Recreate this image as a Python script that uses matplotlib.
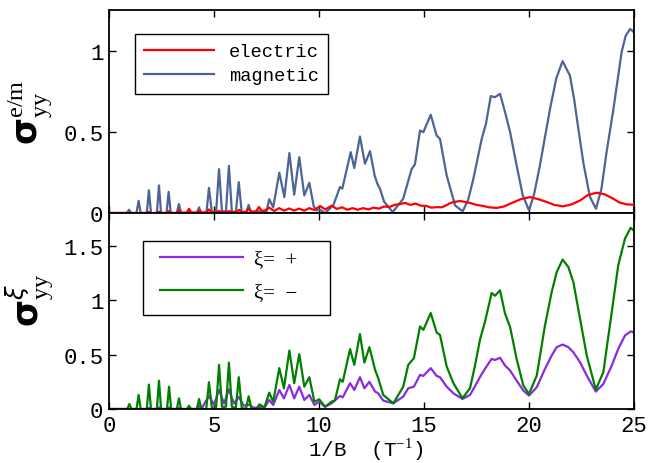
import matplotlib
matplotlib.use('Agg')
import matplotlib.pyplot as plt
from matplotlib.patches import Rectangle

plt.rcParams['font.family'] = ['Liberation Mono', 'DejaVu Sans']
plt.rcParams['mathtext.fontset'] = 'custom'
plt.rcParams['mathtext.rm'] = 'Liberation Serif'
plt.rcParams['mathtext.bf'] = 'DejaVu Sans:bold'

# sigma_yy, magnetic part
mag_x = [0.0, 0.85, 0.95, 1.05, 1.31, 1.41, 1.51, 1.80, 1.90, 2.00, 2.28, 2.38, 2.48,
         2.74, 2.84, 2.94, 3.23, 3.33, 3.43, 3.71, 3.81, 3.91, 4.19, 4.29, 4.39,
         4.64, 4.76, 4.90, 5.10, 5.24, 5.38, 5.57, 5.71, 5.85, 6.04, 6.18, 6.32,
         6.53, 6.65, 6.77, 7.04, 7.14, 7.24, 7.50, 7.63, 7.82, 8.11, 8.35, 8.59,
         8.82, 9.06, 9.30, 9.54, 9.75, 9.89, 10.05, 10.29, 10.68, 11.0, 11.11,
         11.51, 11.68, 11.95, 12.19, 12.43, 12.65, 12.78, 12.9, 13.1, 13.51,
         14.01, 14.41, 14.57, 14.81, 14.97, 15.32, 15.60, 15.76, 16.08, 16.48,
         16.84, 17.1, 17.35, 17.75, 17.95, 18.18, 18.38, 18.62, 18.86, 19.10,
         19.41, 19.7, 20.0, 20.25, 20.52, 20.75, 21.0, 21.3, 21.6, 21.95, 22.15,
         22.35, 22.6, 22.9, 23.19, 23.45, 23.7, 24.02, 24.41, 24.6, 24.81, 24.97, 25.0]
mag_y = [0.0, 0.0, 0.02, 0.0, 0.0, 0.075, 0.0, 0.0, 0.14, 0.0, 0.0, 0.17, 0.0,
         0.0, 0.13, 0.0, 0.0, 0.055, 0.0, 0.0, 0.012, 0.0, 0.0, 0.035, 0.0,
         0.0, 0.155, 0.005, 0.005, 0.27, 0.01, 0.01, 0.29, 0.01, 0.005, 0.19, 0.005,
         0.0, 0.05, 0.0, 0.0, 0.012, 0.0, 0.01, 0.085, 0.035, 0.248, 0.098, 0.369,
         0.113, 0.344, 0.108, 0.186, 0.04, 0.016, 0.02, 0.0, 0.047, 0.16, 0.15,
         0.375, 0.277, 0.471, 0.303, 0.381, 0.23, 0.18, 0.15, 0.07, 0.006,
         0.088, 0.27, 0.30, 0.508, 0.498, 0.605, 0.477, 0.457, 0.231, 0.047,
         0.01, 0.08, 0.21, 0.457, 0.549, 0.72, 0.713, 0.734, 0.621, 0.498,
         0.293, 0.11, 0.016, 0.12, 0.293, 0.46, 0.64, 0.83, 0.935, 0.846, 0.70,
         0.518, 0.30, 0.10, 0.026, 0.15, 0.38, 0.64, 0.99, 1.09, 1.133, 1.117, 1.11]

# sigma_yy, electric part
ele_x = [0.0, 1.8, 1.9, 2.0, 2.28, 2.38, 2.48, 2.74, 2.84, 2.94, 3.23, 3.33, 3.43,
         3.70, 3.81, 3.92, 4.18, 4.29, 4.40, 4.64, 4.76, 4.88, 5.12, 5.24, 5.36,
         5.60, 5.71, 5.83, 6.07, 6.19, 6.31, 6.53, 6.65, 6.78, 7.00, 7.14, 7.28,
         7.43, 7.63, 7.87, 8.10, 8.35, 8.58, 8.82, 9.06, 9.30, 9.54, 9.78, 10.05,
         10.30, 10.6, 10.85, 11.1, 11.35, 11.6, 11.85, 12.1, 12.35, 12.6, 12.85,
         13.1, 13.35, 13.6, 13.85, 14.1, 14.35, 14.6, 14.85, 15.1, 15.35, 15.6,
         15.85, 16.1, 16.24, 16.45, 16.71, 16.95, 17.19, 17.5, 17.82, 18.1, 18.46,
         18.8, 19.10, 19.6, 20.05, 20.45, 20.84, 21.2, 21.63, 22.0, 22.43, 22.8,
         23.22, 23.6, 24.01, 24.3, 24.65, 25.0]
ele_y = [0.0, 0.0, 0.006, 0.0, 0.0, 0.008, 0.0, 0.0, 0.012, 0.0, 0.0, 0.016, 0.002,
         0.002, 0.026, 0.003, 0.003, 0.016, 0.004, 0.004, 0.022, 0.005, 0.005, 0.013, 0.005,
         0.005, 0.012, 0.006, 0.006, 0.02, 0.006, 0.007, 0.026, 0.008, 0.01, 0.037, 0.012,
         0.016, 0.033, 0.012, 0.03, 0.014, 0.028, 0.015, 0.027, 0.014, 0.03, 0.018, 0.043,
         0.022, 0.045, 0.025, 0.035, 0.02, 0.03, 0.02, 0.03, 0.022, 0.033, 0.027,
         0.04, 0.037, 0.05, 0.055, 0.062, 0.05, 0.058, 0.045, 0.044, 0.033, 0.036,
         0.035, 0.05, 0.061, 0.068, 0.074, 0.068, 0.062, 0.05, 0.043, 0.035, 0.031,
         0.04, 0.057, 0.085, 0.098, 0.085, 0.068, 0.05, 0.041, 0.052, 0.077, 0.11,
         0.125, 0.115, 0.088, 0.065, 0.053, 0.051]

# sigma_yy for xi = -
minus_x = [0.0, 0.87, 0.97, 1.07, 1.31, 1.41, 1.51, 1.80, 1.90, 2.00, 2.28, 2.38, 2.48,
           2.76, 2.86, 2.96, 3.23, 3.33, 3.43, 3.71, 3.81, 3.91, 4.18, 4.29, 4.40,
           4.63, 4.76, 4.90, 5.10, 5.24, 5.38, 5.57, 5.71, 5.85, 6.04, 6.18, 6.32,
           6.52, 6.65, 6.79, 7.04, 7.16, 7.40, 7.63, 7.82, 8.11, 8.33, 8.59, 8.82,
           9.06, 9.30, 9.54, 9.78, 10.01, 10.29, 10.60, 10.76, 11.0, 11.13, 11.48,
           11.68, 11.95, 12.16, 12.40, 12.67, 12.82, 13.06, 13.54, 14.01, 14.25,
           14.52, 14.81, 14.97, 15.32, 15.60, 15.76, 16.08, 16.40, 16.83, 17.19,
           17.43, 17.67, 17.90, 18.22, 18.38, 18.62, 18.86, 19.10, 19.41, 19.73,
           20.0, 20.37, 20.76, 21.08, 21.32, 21.60, 21.87, 22.11, 22.43, 22.75,
           23.18, 23.54, 23.94, 24.25, 24.57, 24.84, 24.97, 25.0]
minus_y = [0.0, 0.0, 0.046, 0.0, 0.0, 0.129, 0.0, 0.0, 0.224, 0.0, 0.0, 0.26, 0.0,
           0.0, 0.205, 0.0, 0.0, 0.098, 0.0, 0.0, 0.03, 0.0, 0.0, 0.092, 0.0,
           0.0, 0.246, 0.01, 0.01, 0.405, 0.02, 0.02, 0.426, 0.02, 0.01, 0.292, 0.01,
           0.0, 0.117, 0.0, 0.0, 0.043, 0.015, 0.15, 0.067, 0.375, 0.19, 0.537, 0.237,
           0.504, 0.205, 0.292, 0.067, 0.089, 0.021, 0.067, 0.08, 0.273, 0.25, 0.55,
           0.405, 0.688, 0.426, 0.568, 0.36, 0.283, 0.129, 0.052, 0.205, 0.405,
           0.467, 0.758, 0.727, 0.881, 0.703, 0.681, 0.39, 0.237, 0.099, 0.19,
           0.40, 0.64, 0.798, 1.065, 1.04, 1.09, 0.875, 0.752, 0.46, 0.215,
           0.138, 0.307, 0.767, 1.074, 1.258, 1.372, 1.305, 1.167, 0.829, 0.491,
           0.178, 0.338, 0.89, 1.32, 1.565, 1.664, 1.642, 1.64]

# sigma_yy for xi = +
plus_x = [0.0, 1.80, 1.90, 2.00, 2.28, 2.38, 2.48, 2.76, 2.86, 2.96, 3.23, 3.33, 3.43,
          3.71, 3.81, 3.91, 4.18, 4.29, 4.40, 4.76, 5.0, 5.24, 5.48, 5.71, 5.95,
          6.18, 6.42, 6.65, 6.9, 7.16, 7.40, 7.63, 7.82, 8.11, 8.33, 8.59, 8.82,
          9.06, 9.30, 9.54, 9.78, 10.01, 10.29, 10.60, 11.0, 11.13, 11.48, 11.68,
          11.95, 12.16, 12.40, 12.67, 12.82, 13.06, 13.54, 14.01, 14.25, 14.52,
          14.81, 14.97, 15.32, 15.60, 15.76, 16.08, 16.40, 16.83, 17.19, 17.43,
          17.67, 17.90, 18.22, 18.38, 18.62, 18.86, 19.10, 19.41, 19.73, 20.0,
          20.37, 20.76, 21.08, 21.32, 21.60, 21.87, 22.11, 22.43, 22.75, 23.18,
          23.54, 23.94, 24.25, 24.57, 24.84, 24.97, 25.0]
plus_y = [0.0, 0.0, 0.01, 0.0, 0.0, 0.015, 0.0, 0.0, 0.015, 0.0, 0.0, 0.01, 0.0,
          0.0, 0.01, 0.0, 0.0, 0.03, 0.0, 0.12, 0.04, 0.175, 0.05, 0.18, 0.05,
          0.11, 0.03, 0.04, 0.01, 0.02, 0.01, 0.083, 0.037, 0.175, 0.098, 0.221, 0.098,
          0.205, 0.083, 0.129, 0.037, 0.067, 0.02, 0.052, 0.12, 0.107, 0.237, 0.175,
          0.292, 0.19, 0.25, 0.16, 0.144, 0.077, 0.052, 0.114, 0.19, 0.205,
          0.313, 0.304, 0.375, 0.304, 0.292, 0.205, 0.144, 0.092, 0.129, 0.21,
          0.295, 0.368, 0.46, 0.45, 0.47, 0.399, 0.353, 0.261, 0.169, 0.123,
          0.2, 0.368, 0.491, 0.568, 0.592, 0.568, 0.521, 0.43, 0.307, 0.16,
          0.23, 0.399, 0.552, 0.675, 0.712, 0.706, 0.70]

fig = plt.figure(figsize=(6.48, 4.64), dpi=100)
ax1 = fig.add_axes([0.1682, 0.5388, 0.8102, 0.4375])
ax2 = fig.add_axes([0.1682, 0.1164, 0.8102, 0.4224])

ax1.plot(mag_x, mag_y, color='#4c6596', lw=1.6, label='magnetic', zorder=2)
ax1.plot(ele_x, ele_y, color='#ff0000', lw=1.6, label='electric', zorder=3)
ax2.plot(plus_x, plus_y, color='#8a2be2', lw=1.6, label='ξ=  +')
ax2.plot(minus_x, minus_y, color='#008000', lw=1.6, label='ξ=  −')

ax1.set_xlim(0, 25)
ax1.set_ylim(0, 1.25)
ax1.set_yticks([0, 0.5, 1])
ax1.set_yticklabels(['0', '0.5', '1'])
ax1.set_xticks([0, 5, 10, 15, 20, 25])
ax1.set_xticklabels([])

ax2.set_xlim(0, 25)
ax2.set_ylim(0, 1.8)
ax2.set_yticks([0, 0.5, 1, 1.5])
ax2.set_yticklabels(['0', '0.5', '1', '1.5'])
ax2.set_xticks([0, 5, 10, 15, 20, 25])
ax2.set_xticklabels(['0', '5', '10', '15', '20', '25'])

for ax in (ax1, ax2):
    ax.tick_params(direction='in', top=True, right=True, length=5, width=1,
                   labelsize=16, pad=4)
    for s in ax.spines.values():
        s.set_linewidth(1.3)

# legends, ordered as in the figure
h, l = ax1.get_legend_handles_labels()
leg1 = ax1.legend(h[::-1], l[::-1], loc='upper left', bbox_to_anchor=(0.0495, 0.882),
                  borderaxespad=0, fancybox=False, edgecolor='black', framealpha=1,
                  prop={'family': 'Liberation Mono', 'size': 13.5},
                  handlelength=3.7, labelspacing=0.35, borderpad=0.5)
leg1.get_frame().set_linewidth(1.0)

# lower legend: box drawn separately so it can be wider than its entries
ax2.add_patch(Rectangle((0.0648, 0.480), 0.356, 0.377, transform=ax2.transAxes,
                        facecolor='white', edgecolor='black', lw=1.0, zorder=4))
leg2 = ax2.legend(loc='upper left', bbox_to_anchor=(0.097, 0.815),
                  borderaxespad=0, frameon=False, borderpad=0,
                  prop={'family': ['Liberation Serif', 'DejaVu Sans'], 'size': 15},
                  handlelength=4.0, labelspacing=0.65, handletextpad=0.5)
leg2.set_zorder(5)

ax1.set_ylabel(r'$\mathbf{\sigma}^{\mathrm{e/m}}_{\mathrm{yy}}$', fontsize=25)
ax1.yaxis.set_label_coords(-0.103, 0.50)
ax2.set_ylabel(r'$\mathbf{\sigma}^{\xi}_{\mathrm{yy}}$', fontsize=25)
ax2.yaxis.set_label_coords(-0.103, 0.56)

ax2.set_xlabel(r'1/B  (T$^{-1}$)', fontsize=15, va='top')
ax2.xaxis.set_label_coords(0.488, -0.135)

fig.savefig('out.png', dpi=100)
